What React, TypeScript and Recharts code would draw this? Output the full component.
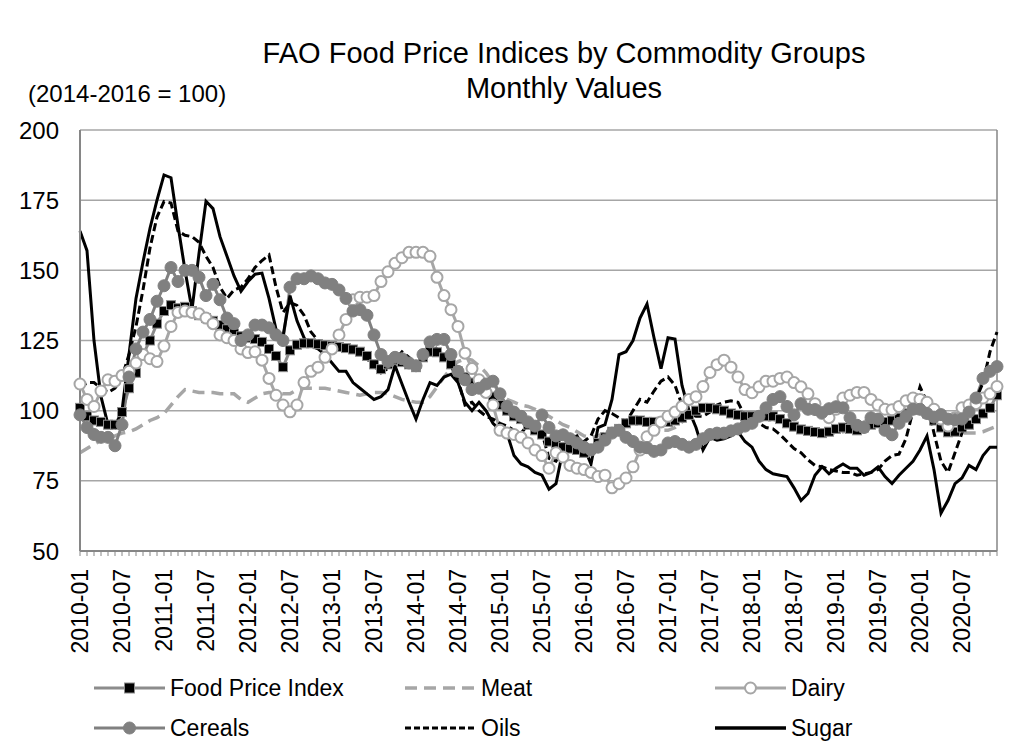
import React from 'react';
import { LineChart, Line, XAxis, YAxis, CartesianGrid, ReferenceLine, Legend } from 'recharts';

const YEARS = [2010, 2011, 2012, 2013, 2014, 2015, 2016, 2017, 2018, 2019, 2020];
const MONTH_CODES = ['01', '02', '03', '04', '05', '06', '07', '08', '09', '10', '11', '12'];
const months: string[] = YEARS.flatMap((y) => MONTH_CODES.map((m) => `${y}-${m}`));

const Y_TICKS = [50, 75, 100, 125, 150, 175, 200];

const fpi = [
  101, 98, 96.5, 96, 95, 95, 99.5, 108, 113.5, 120, 125, 131,
  135.5, 137.6, 136.5, 137, 135.5, 134, 133, 132, 130.5, 129, 127.5, 126.5,
  126, 125.5, 124.5, 122, 119.5, 115.5, 121.5, 123.5, 124, 124, 123.7, 123.3,
  123, 122.7, 122.3, 121.8, 121, 119.5, 116.5, 114.8, 116.5, 118, 117.3, 116.5,
  115.5, 119, 121, 120.8, 119, 116.5, 114, 112, 110, 108.5, 107, 105,
  102, 100, 98, 97, 95, 93, 91.5, 89, 88.5, 87, 86.5, 86,
  85, 86.5, 88.5, 90.5, 92.5, 93.5, 95.5, 96.5, 96.5, 96, 96, 96,
  96, 96.5, 97.5, 98.5, 100, 101, 101, 100.5, 100, 99, 98.5, 98,
  98, 98, 98, 98, 97, 95.5, 94.3, 93.3, 92.8, 92.4, 92, 92.5,
  93.5, 94, 93.5, 93, 94, 95, 95.5, 96, 96.5, 97.5, 99, 100.4,
  100.5, 99, 96.5, 94, 92.3, 92.5, 94, 95, 97, 99, 101, 105.5,
];

const meat = [
  85, 86.5, 88, 89.5, 90.5, 91, 92, 92.5, 93.5, 95, 96.5, 97.5,
  99, 102, 105, 107.5, 107, 106.5, 106.5, 106.5, 106, 106, 106, 104,
  103, 104.5, 106, 106.5, 106.5, 106, 106, 107.5, 108, 108, 108, 108,
  107.5, 107, 106.5, 106, 105.5, 106, 106.5, 106.5, 106, 105, 104, 103.5,
  103, 103, 105, 108.5, 112, 115, 117.5, 118.5, 118, 116, 113.5, 110,
  106, 104, 103, 102, 101.5, 100.5, 99, 98, 96.5, 95, 94, 92.5,
  91, 90.5, 91, 92, 93, 94, 95.5, 96, 95.5, 95, 94, 93,
  93, 94, 96, 98, 99.5, 100, 101, 101.5, 101, 100, 99, 97,
  96, 96.5, 96.5, 97, 96, 95, 94.5, 94, 93.5, 93, 92.5, 92.5,
  92, 92.5, 93, 94.5, 96, 97.5, 98.5, 99.5, 100, 100.5, 101, 100.5,
  99.5, 98, 96, 95, 94, 93, 92, 92, 92, 92.5, 93.5, 94.5,
];

const dairy = [
  109.5, 104, 101.5, 107, 111, 110.5, 112.5, 114, 117, 120, 118.5, 117.5,
  123, 130, 135, 135.5, 135, 134.5, 133, 131, 127, 126, 125, 122,
  120.7, 121, 118, 111.5, 105.5, 102, 99.6, 102, 110, 114, 115.5, 119,
  122, 127, 132.5, 139.5, 140.4, 140.4, 141, 146, 149.5, 152.5, 154.5, 156.4,
  156.4, 156.4, 155, 147.5, 141, 136, 130, 120.5, 115, 111, 106.5, 102,
  93, 92, 91.5, 90.5, 88.5, 86, 84, 79.5, 85, 83.5, 80.5, 79.5,
  79, 78, 76.5, 77, 72.5, 74, 76, 80, 86, 90.7, 93, 96,
  98, 99.5, 101.5, 104, 105, 108.6, 113.6, 116.4, 118, 115.5, 112, 107.5,
  106.4, 108.5, 110.5, 110.5, 111.5, 112, 110, 108.5, 106, 102.5, 99, 97.5,
  100.5, 104.5, 105.5, 106.5, 106.5, 104, 102, 100.5, 100.3, 101.5, 103.5, 104.5,
  104, 103, 100.5, 97, 94.5, 97.5, 101, 102, 102.5, 104.5, 106, 108.6,
];

const cereals = [
  98.5, 94, 91.5, 90.5, 90.5, 87.5, 95, 112, 122, 128, 132.5, 139,
  144.5, 151, 146, 150, 150, 147.5, 141, 145, 139.5, 133, 131, 125,
  127, 130.5, 130.5, 129.5, 127, 125, 144, 147, 147, 148, 147, 145.5,
  145, 143, 140, 135.5, 136, 134, 127, 120, 117.5, 119, 118.5, 117,
  116, 120, 124.5, 125.4, 125.4, 120, 114, 111, 107.5, 108, 109.5, 110.5,
  106, 101.5, 99.5, 98, 96, 94.5, 98.5, 94, 91, 91.4, 90, 88.5,
  87, 86, 87, 89.5, 92, 93, 90.5, 89, 87, 86.8, 85.5, 86,
  88.5, 89, 88, 87, 88, 90, 91.5, 92, 92, 92.8, 93.5, 94.5,
  95.5, 98, 101, 104, 105, 101.5, 98.5, 102.5, 100.5, 100.4, 99.3, 100.7,
  101.4, 101, 97.5, 94.8, 94, 97.5, 97, 93, 91.4, 95.5, 98, 100.5,
  100.5, 99, 97.7, 98.6, 97, 96.8, 97, 99.5, 104.5, 111.5, 114, 115.7,
];

const oils = [
  108, 110, 110, 108, 106.5, 108, 112, 120, 130, 143, 158, 169,
  174.5, 174, 164, 162.5, 162, 160, 155, 151, 144, 140, 143, 144,
  147, 151, 153.5, 155.5, 144, 135, 138.5, 137.5, 134, 128, 125, 124,
  123.5, 123, 122, 121, 120, 118.5, 116, 113.5, 115, 118, 121, 119,
  116, 121, 124, 122, 120, 116, 111, 102, 103, 100, 98, 97,
  95.5, 94.5, 93, 92, 95, 94, 92, 83, 82, 86, 88, 88.5,
  89, 91, 97, 100, 99, 97.5, 96, 100, 104, 103, 107, 110.5,
  112, 109, 102, 99, 98, 98, 99.5, 102, 103, 103.5, 103, 98,
  96, 95.5, 94, 93.5, 91.5, 89, 86.5, 85, 82.5, 80.5, 80, 79,
  78.5, 78, 78, 77, 77.5, 78, 79, 82, 84, 84.5, 90, 100,
  108.5, 103, 92, 82, 78, 85, 92, 99, 104, 110, 121, 128,
];

const sugar = [
  164, 157, 125, 105, 95, 94, 100, 120, 140, 153, 165, 175,
  184, 183, 166, 150, 136, 156, 174.6, 172, 162, 155, 148, 142.5,
  146, 148.6, 149, 140, 129, 126.5, 141, 132, 126, 123, 122, 120,
  117, 114, 114, 110, 108, 106, 104, 105, 107.5, 116, 109.5, 103,
  97, 104, 110, 109, 112, 113, 110, 103, 100, 103, 100, 95.5,
  93, 92, 84, 81, 80, 78, 77, 72, 74, 86, 90, 91,
  87, 81, 94, 95, 104, 120, 121, 125, 133, 138, 126, 115,
  126, 125.5, 109, 100, 94, 86, 90.5, 89.5, 90, 91, 92.5, 89,
  87, 82, 79, 77.5, 77, 76.5, 72.5, 68, 70.5, 77, 80, 77.5,
  79.5, 81, 79.5, 79.5, 77, 78, 80, 76.5, 74, 77, 79.5, 82,
  86, 91, 79, 63.5, 68, 74, 76, 80.5, 79, 84, 87, 87,
];

const data = months.map((m, i) => ({
  month: m,
  fpi: fpi[i],
  meat: meat[i],
  dairy: dairy[i],
  cereals: cereals[i],
  oils: oils[i],
  sugar: sugar[i],
}));

const FONT = '"Liberation Sans", Arial, sans-serif';
const GRID = '#a6a6a6';
const AXIS = '#868686';
const FPI_LINE = '#8c8c8c';
const DARK = '#808080';
const LIGHT = '#a6a6a6';

const MonthTick = (props: any) => {
  const { x, y, payload } = props;
  const idx = months.indexOf(payload.value);
  if (idx % 6 !== 0) return <g />;
  const ty = y + 11;
  return (
    <text
      x={x}
      y={ty}
      transform={`rotate(-90, ${x}, ${ty})`}
      textAnchor="end"
      dy="0.35em"
      fontSize={23}
      fill="#000"
      fontFamily={FONT}
    >
      {payload.value}
    </text>
  );
};

const SquareDot = (props: any) => {
  const { cx, cy, index } = props;
  if (cx == null || cy == null) return <g key={`s${index}`} />;
  return (
    <rect
      key={`s${index}`}
      x={cx - 4.5}
      y={cy - 4.5}
      width={9}
      height={9}
      fill="#000"
      stroke={FPI_LINE}
      strokeWidth={1}
    />
  );
};

const LEGEND_ITEMS = [
  { name: 'Food Price Index', col: 0, row: 0, kind: 'fpi' },
  { name: 'Meat', col: 1, row: 0, kind: 'meat' },
  { name: 'Dairy', col: 2, row: 0, kind: 'dairy' },
  { name: 'Cereals', col: 0, row: 1, kind: 'cereals' },
  { name: 'Oils', col: 1, row: 1, kind: 'oils' },
  { name: 'Sugar', col: 2, row: 1, kind: 'sugar' },
];
const LEGEND_COLS = [86, 397, 707];
const LEGEND_ROWS = [30, 70];

const LegendContent = () => (
  <svg width={1009} height={90} style={{ display: 'block' }}>
    {LEGEND_ITEMS.map((it) => {
      const x0 = LEGEND_COLS[it.col];
      const x1 = x0 + 71;
      const cx = (x0 + x1) / 2;
      const cy = LEGEND_ROWS[it.row];
      let sym: React.ReactNode = null;
      if (it.kind === 'fpi') {
        sym = (
          <g>
            <line x1={x0} y1={cy} x2={x1} y2={cy} stroke={FPI_LINE} strokeWidth={3} />
            <rect x={cx - 5} y={cy - 5} width={10} height={10} fill="#000" stroke={FPI_LINE} strokeWidth={1} />
          </g>
        );
      } else if (it.kind === 'meat') {
        sym = <line x1={x0} y1={cy} x2={x1} y2={cy} stroke={LIGHT} strokeWidth={3.5} strokeDasharray="12 7" />;
      } else if (it.kind === 'dairy') {
        sym = (
          <g>
            <line x1={x0} y1={cy} x2={x1} y2={cy} stroke={LIGHT} strokeWidth={3} />
            <circle cx={cx} cy={cy} r={5.5} fill="#fff" stroke={LIGHT} strokeWidth={2} />
          </g>
        );
      } else if (it.kind === 'cereals') {
        sym = (
          <g>
            <line x1={x0} y1={cy} x2={x1} y2={cy} stroke={DARK} strokeWidth={3} />
            <circle cx={cx} cy={cy} r={6} fill={DARK} stroke={DARK} strokeWidth={1} />
          </g>
        );
      } else if (it.kind === 'oils') {
        sym = <line x1={x0} y1={cy} x2={x1} y2={cy} stroke="#000" strokeWidth={3} strokeDasharray="6 3" />;
      } else {
        sym = <line x1={x0} y1={cy} x2={x1} y2={cy} stroke="#000" strokeWidth={3.5} />;
      }
      return (
        <g key={it.name}>
          {sym}
          <text x={x1 + 5} y={cy} dy="0.35em" fontSize={23} fontFamily={FONT} fill="#000">
            {it.name}
          </text>
        </g>
      );
    })}
  </svg>
);

export default function App() {
  return (
    <div
      style={{
        position: 'relative',
        width: 1009,
        height: 737,
        outline: '1px solid #d9d9d9',
        background: '#fff',
        fontFamily: FONT,
      }}
    >
      <LineChart
        width={1009}
        height={737}
        data={data}
        margin={{ top: 122, right: 20, bottom: 94, left: 0 }}
        style={{ fontFamily: FONT }}
      >
        <CartesianGrid vertical={false} stroke={GRID} strokeWidth={1.5} />
        <XAxis
          dataKey="month"
          interval={0}
          height={100}
          tickSize={5}
          tickLine={{ stroke: AXIS, strokeWidth: 1 }}
          axisLine={{ stroke: AXIS, strokeWidth: 2 }}
          tick={<MonthTick />}
        />
        <YAxis
          type="number"
          domain={[50, 200]}
          ticks={Y_TICKS}
          width={72}
          tickSize={0}
          tickMargin={21}
          tickLine={false}
          axisLine={{ stroke: AXIS, strokeWidth: 2 }}
          tick={{ fill: '#000', fontSize: 24, fontFamily: FONT }}
          allowDataOverflow
        />
        <ReferenceLine x="2020-12" stroke={AXIS} strokeWidth={1.5} />
        <Line
          dataKey="fpi"
          name="Food Price Index"
          type="linear"
          stroke={FPI_LINE}
          strokeWidth={3}
          dot={<SquareDot />}
          activeDot={false}
          isAnimationActive={false}
        />
        <Line
          dataKey="meat"
          name="Meat"
          type="linear"
          stroke={LIGHT}
          strokeWidth={3.5}
          strokeDasharray="12 7"
          dot={false}
          activeDot={false}
          isAnimationActive={false}
        />
        <Line
          dataKey="dairy"
          name="Dairy"
          type="linear"
          stroke={LIGHT}
          strokeWidth={3}
          dot={{ r: 5.5, fill: '#fff', stroke: LIGHT, strokeWidth: 2 }}
          activeDot={false}
          isAnimationActive={false}
        />
        <Line
          dataKey="cereals"
          name="Cereals"
          type="linear"
          stroke={DARK}
          strokeWidth={3}
          dot={{ r: 6, fill: DARK, stroke: DARK, strokeWidth: 1 }}
          activeDot={false}
          isAnimationActive={false}
        />
        <Line
          dataKey="oils"
          name="Oils"
          type="linear"
          stroke="#000"
          strokeWidth={3}
          strokeDasharray="8 4"
          dot={false}
          activeDot={false}
          isAnimationActive={false}
        />
        <Line
          dataKey="sugar"
          name="Sugar"
          type="linear"
          stroke="#000"
          strokeWidth={3}
          dot={false}
          activeDot={false}
          isAnimationActive={false}
        />
        <Legend
          layout="vertical"
          align="center"
          verticalAlign="middle"
          wrapperStyle={{ position: 'absolute', top: 650, left: 0, width: 1009, height: 90 }}
          content={() => <LegendContent />}
        />
      </LineChart>
      <svg
        width={1009}
        height={120}
        style={{ position: 'absolute', left: 0, top: 0, pointerEvents: 'none' }}
      >
        <text x={556} y={55} textAnchor="middle" fontSize={29} fontFamily={FONT} fill="#000">
          FAO Food Price Indices by Commodity Groups
        </text>
        <text x={556} y={90} textAnchor="middle" fontSize={29} fontFamily={FONT} fill="#000">
          Monthly Values
        </text>
        <text x={20} y={94} fontSize={24} fontFamily={FONT} fill="#000">
          (2014-2016 = 100)
        </text>
      </svg>
    </div>
  );
}
